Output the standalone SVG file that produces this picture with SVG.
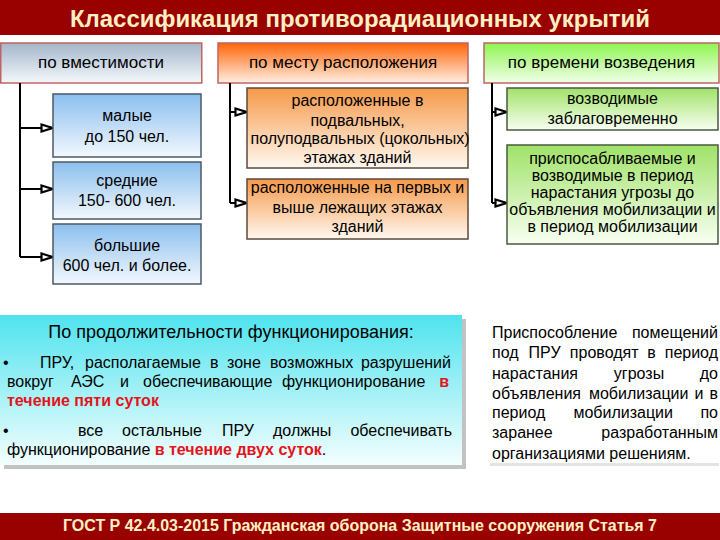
<svg xmlns="http://www.w3.org/2000/svg" width="720" height="540" viewBox="0 0 720 540">
<defs>
<linearGradient id="gH1" x1="0" y1="0" x2="0" y2="1"><stop offset="0" stop-color="#A3B6C9"/><stop offset="1" stop-color="#F4F8FC"/></linearGradient>
<linearGradient id="gH2" x1="0" y1="0" x2="0" y2="1"><stop offset="0" stop-color="#FF6508"/><stop offset="1" stop-color="#FFF0E4"/></linearGradient>
<linearGradient id="gH3" x1="0" y1="0" x2="0" y2="1"><stop offset="0" stop-color="#8EF552"/><stop offset="1" stop-color="#F2FFEA"/></linearGradient>
<linearGradient id="gB" x1="0" y1="0" x2="0" y2="1"><stop offset="0" stop-color="#8BBFEE"/><stop offset="1" stop-color="#F3F8FE"/></linearGradient>
<linearGradient id="gO" x1="0" y1="0" x2="0" y2="1"><stop offset="0" stop-color="#F5994A"/><stop offset="1" stop-color="#FFF8F0"/></linearGradient>
<linearGradient id="gG" x1="0" y1="0" x2="0" y2="1"><stop offset="0" stop-color="#A0E268"/><stop offset="1" stop-color="#F8FFF2"/></linearGradient>
<linearGradient id="gC" x1="0" y1="0" x2="0" y2="1"><stop offset="0" stop-color="#4FE3EE"/><stop offset="1" stop-color="#F4FEFE"/></linearGradient>
<marker id="arr" viewBox="0 0 14 10" refX="13" refY="5" markerWidth="14" markerHeight="10" markerUnits="userSpaceOnUse" orient="auto">
<path d="M1.5,1.5 L12.5,5 L1.5,8.5 z" fill="#fff" stroke="#000" stroke-width="2.2" stroke-linejoin="miter"/>
</marker>
</defs>
<style>
text{font-family:"Liberation Sans",Arial,sans-serif;fill:#000}
.bar{fill:#990000}
.ttl{font-size:24px;font-weight:bold;fill:#FFF0C4}
.ftr{font-size:16px;font-weight:bold;fill:#FFF0C4}
.hdr{stroke:#BE6462;stroke-width:1.5}
.hd{font-size:17px}
.sb{stroke:#4C5A68;stroke-width:1.5}
.so{stroke:#5C4A3A;stroke-width:1.5}
.sg{stroke:#4A5A40;stroke-width:1.5}
.t{font-size:16px}
.c{text-anchor:middle}
.e{text-anchor:end}
.red{fill:#E3141B;font-weight:bold}
.con{fill:none;stroke:#000;stroke-width:2}
</style>

<g id="title">
<rect class="bar" x="0" y="0" width="720" height="35"/>
<text class="ttl c" x="360" y="27" textLength="580" lengthAdjust="spacingAndGlyphs">Классификация противорадиационных укрытий</text>
</g>

<g id="h1">
<rect class="hdr" x="0.75" y="43" width="201" height="40" fill="url(#gH1)"/>
<text class="hd c" x="101" y="68">по вместимости</text>
</g>
<g id="h2">
<rect class="hdr" x="218" y="43" width="250" height="40" fill="url(#gH2)"/>
<text class="hd c" x="343" y="68">по месту расположения</text>
</g>
<g id="h3">
<rect class="hdr" x="484" y="43" width="235" height="40" fill="url(#gH3)"/>
<text class="hd c" x="601.5" y="68">по времени возведения</text>
</g>

<g id="connectors">
<path class="con" d="M20,83 V257"/>
<path class="con" d="M20,128 H53" marker-end="url(#arr)"/>
<path class="con" d="M20,189 H53" marker-end="url(#arr)"/>
<path class="con" d="M20,257 H53" marker-end="url(#arr)"/>
<path class="con" d="M230,83 V203"/>
<path class="con" d="M230,112 H247" marker-end="url(#arr)"/>
<path class="con" d="M230,203 H247" marker-end="url(#arr)"/>
<path class="con" d="M492,83 V203"/>
<path class="con" d="M492,112 H507" marker-end="url(#arr)"/>
<path class="con" d="M492,203 H507" marker-end="url(#arr)"/>
</g>

<g id="small">
<rect class="sb" x="53" y="94" width="148" height="63" fill="url(#gB)"/>
<text class="t c" x="127" y="121">малые</text>
<text class="t c" x="127" y="142">до 150 чел.</text>
</g>
<g id="medium">
<rect class="sb" x="53" y="162" width="148" height="57" fill="url(#gB)"/>
<text class="t c" x="127" y="186">средние</text>
<text class="t c" x="127" y="206">150- 600 чел.</text>
</g>
<g id="large">
<rect class="sb" x="53" y="224" width="148" height="60" fill="url(#gB)"/>
<text class="t c" x="127" y="251">большие</text>
<text class="t c" x="127" y="271">600 чел. и более.</text>
</g>

<g id="basement">
<rect class="so" x="247" y="88" width="221" height="80" fill="url(#gO)"/>
<text class="t c" x="357.5" y="106">расположенные в</text>
<text class="t c" x="357.5" y="126">подвальных,</text>
<text class="t c" x="360" y="144">полуподвальных (цокольных)</text>
<text class="t c" x="357.5" y="163">этажах зданий</text>
</g>
<g id="upper">
<rect class="so" x="247" y="179" width="221" height="60" fill="url(#gO)"/>
<text class="t c" x="357.5" y="193">расположенные на первых и</text>
<text class="t c" x="357.5" y="213">выше лежащих этажах</text>
<text class="t c" x="357.5" y="232">зданий</text>
</g>

<g id="advance">
<rect class="sg" x="507" y="88" width="211" height="42" fill="url(#gG)"/>
<text class="t c" x="612.5" y="104">возводимые</text>
<text class="t c" x="612.5" y="124">заблаговременно</text>
</g>
<g id="threat">
<rect class="sg" x="507" y="145" width="211" height="99" fill="url(#gG)"/>
<text class="t c" x="612.5" y="164">приспосабливаемые и</text>
<text class="t c" x="612.5" y="181">возводимые в период</text>
<text class="t c" x="612.5" y="198">нарастания угрозы до</text>
<text class="t c" x="612.5" y="215">объявления мобилизации и</text>
<text class="t c" x="612.5" y="232">в период мобилизации</text>
</g>

<g id="duration">
<rect x="4" y="319" width="462" height="150" fill="#9A9A9A" opacity="0.6"/>
<rect x="0" y="315" width="462" height="150" fill="url(#gC)"/>
<text class="c" x="231" y="338" style="font-size:18px">По продолжительности функционирования:</text>
<text class="t" x="3" y="368">•</text>
<text class="t" x="40" y="368">ПРУ,</text>
<text class="t" x="85" y="368">располагаемые</text>
<text class="t" x="210" y="368">в</text>
<text class="t" x="227" y="368">зоне</text>
<text class="t" x="270" y="368">возможных</text>
<text class="t e" x="451" y="368">разрушений</text>
<text class="t" x="7" y="387">вокруг</text>
<text class="t" x="71" y="387">АЭС</text>
<text class="t" x="120" y="387">и</text>
<text class="t" x="143" y="387">обеспечивающие</text>
<text class="t" x="282" y="387">функционирование</text>
<text class="t e red" x="449" y="387">в</text>
<text class="t red" x="7" y="406">течение пяти суток</text>
<text class="t" x="3" y="436">•</text>
<text class="t" x="78" y="436">все</text>
<text class="t" x="122" y="436">остальные</text>
<text class="t" x="222" y="436">ПРУ</text>
<text class="t" x="273" y="436">должны</text>
<text class="t e" x="452" y="436">обеспечивать</text>
<text class="t" x="7" y="455">функционирование <tspan class="red">в течение двух суток</tspan>.</text>
</g>

<g id="note">
<rect x="490" y="463" width="229" height="3" fill="#E2E4E6"/>
<text class="t" x="492" y="338">Приспособление</text>
<text class="t e" x="718" y="338">помещений</text>
<text class="t" x="492" y="358">под</text>
<text class="t c" x="544.6" y="358">ПРУ</text>
<text class="t c" x="604.2" y="358">проводят</text>
<text class="t c" x="651.5" y="358">в</text>
<text class="t e" x="718" y="358">период</text>
<text class="t" x="492" y="379">нарастания</text>
<text class="t c" x="639" y="379">угрозы</text>
<text class="t e" x="718" y="379">до</text>
<text class="t" x="492" y="399">объявления</text>
<text class="t c" x="638.7" y="399">мобилизации</text>
<text class="t c" x="698.9" y="399">и</text>
<text class="t e" x="718" y="399">в</text>
<text class="t" x="492" y="418">период</text>
<text class="t c" x="623.2" y="418">мобилизации</text>
<text class="t e" x="718" y="418">по</text>
<text class="t" x="492" y="438">заранее</text>
<text class="t e" x="718" y="438">разработанным</text>
<text class="t" x="492" y="459">организациями решениям.</text>
</g>

<g id="footer">
<rect class="bar" x="0" y="513" width="720" height="27"/>
<text class="ftr c" x="360" y="531" textLength="594" lengthAdjust="spacingAndGlyphs">ГОСТ Р 42.4.03-2015 Гражданская оборона Защитные сооружения Статья 7</text>
</g>
</svg>
